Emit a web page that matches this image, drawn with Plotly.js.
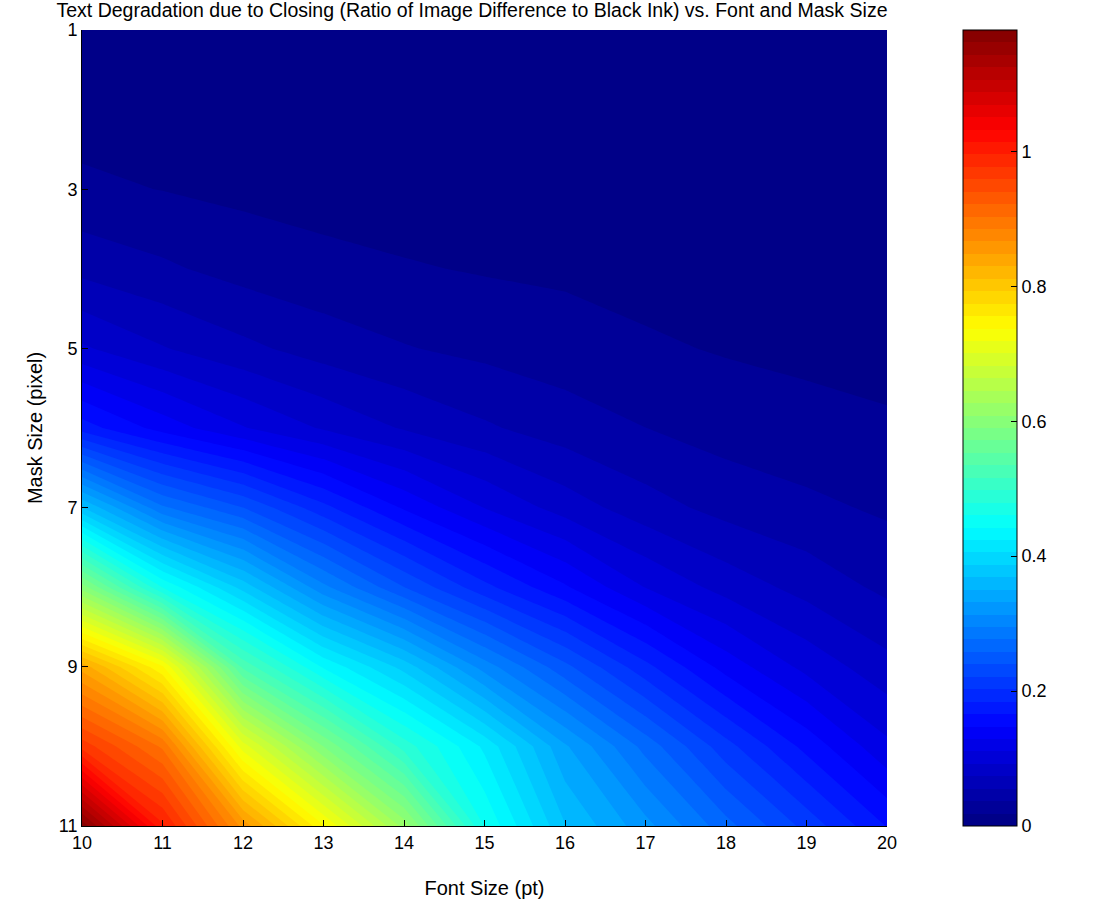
<!DOCTYPE html>
<html>
<head>
<meta charset="utf-8">
<script src="https://cdn.plot.ly/plotly-3.0.1.min.js"></script>
<style>html,body{margin:0;padding:0;background:#fff;}#chart{width:1102px;height:909px;}</style>
</head>
<body>
<div id="chart"></div>
<script>
// Font size (pt) – x axis
const fontSizes = [10, 11, 12, 13, 14, 15, 16, 17, 18, 19, 20];
// Mask size (pixel) – y axis
const maskSizes = [1, 2, 3, 4, 5, 6, 7, 8, 9, 10, 11];
// Ratio of image difference to black ink, one row per mask size
const ratioMask1  = [0.004,0.003,0.002,0.002,0.001,0.001,0.001,0.001,0.000,0.000,0.000];
const ratioMask2  = [0.011,0.008,0.006,0.005,0.004,0.003,0.002,0.002,0.001,0.001,0.001];
const ratioMask3  = [0.022,0.018,0.014,0.011,0.009,0.007,0.006,0.005,0.004,0.003,0.003];
const ratioMask4  = [0.050,0.040,0.030,0.024,0.020,0.017,0.015,0.012,0.009,0.007,0.006];
const ratioMask5  = [0.095,0.075,0.060,0.047,0.038,0.032,0.027,0.021,0.017,0.014,0.012];
const ratioMask6  = [0.175,0.140,0.112,0.090,0.072,0.058,0.046,0.037,0.029,0.025,0.021];
const ratioMask7  = [0.370,0.280,0.240,0.190,0.145,0.110,0.084,0.063,0.049,0.041,0.034];
const ratioMask8  = [0.600,0.460,0.380,0.300,0.240,0.190,0.150,0.110,0.085,0.067,0.051];
const ratioMask9  = [0.840,0.740,0.530,0.440,0.380,0.305,0.245,0.190,0.140,0.105,0.080];
const ratioMask10 = [0.970,0.900,0.710,0.590,0.490,0.420,0.335,0.270,0.210,0.160,0.115];
const ratioMask11 = [1.175,1.000,0.860,0.740,0.620,0.460,0.370,0.320,0.265,0.215,0.165];
const xTicks = [10, 11, 12, 13, 14, 15, 16, 17, 18, 19, 20];
const yTicks = [1, 3, 5, 7, 9, 11];
const cbTicks = [0, 0.2, 0.4, 0.6, 0.8, 1];

const z = [ratioMask1, ratioMask2, ratioMask3, ratioMask4, ratioMask5, ratioMask6,
           ratioMask7, ratioMask8, ratioMask9, ratioMask10, ratioMask11];

const zMax = 1.18;
const jet = [
  [0, 'rgb(0,0,128)'],
  [0.125, 'rgb(0,0,255)'],
  [0.375, 'rgb(0,255,255)'],
  [0.625, 'rgb(255,255,0)'],
  [0.875, 'rgb(255,0,0)'],
  [1, 'rgb(128,0,0)']
];
const font = 'Liberation Sans, Arial, Helvetica, sans-serif';

const plotL = 82, plotR = 887, plotT = 30, plotB = 826;
const plotW = plotR - plotL;

const trace = {
  type: 'contour',
  x: fontSizes,
  y: maskSizes,
  z: z,
  colorscale: jet,
  zmin: 0,
  zmax: zMax,
  zauto: false,
  contours: {start: 0, end: zMax, size: zMax / 64, coloring: 'fill', showlines: false},
  line: {width: 0, smoothing: 0},
  hoverinfo: 'x+y+z',
  colorbar: {
    x: (963 - plotL) / plotW, xanchor: 'left', xref: 'paper',
    y: 0.5, yanchor: 'middle', len: 1, lenmode: 'fraction',
    thickness: 54, thicknessmode: 'pixels',
    xpad: 0, ypad: 0,
    outlinewidth: 1, outlinecolor: '#000',
    tickmode: 'array', tickvals: cbTicks, ticktext: ['0','0.2','0.4','0.6','0.8','1'],
    ticks: 'inside', ticklen: 6, tickcolor: '#000', tickwidth: 1,
    tickfont: {family: font, size: 18, color: '#000'}
  }
};

const layout = {
  width: 1102, height: 909,
  margin: {l: plotL, r: 1102 - plotR, t: plotT, b: 909 - plotB, pad: 0},
  paper_bgcolor: '#fff', plot_bgcolor: '#fff',
  font: {family: font, color: '#000'},
  title: {
    text: 'Text Degradation due to Closing (Ratio of Image Difference to Black Ink) vs. Font and Mask Size',
    font: {family: font, size: 19.5, color: '#000'},
    x: 472 / 1102, xref: 'container', xanchor: 'center',
    y: 1 - 10 / 909, yref: 'container', yanchor: 'middle'
  },
  xaxis: {
    range: [10, 20], tickmode: 'array', tickvals: xTicks, ticktext: xTicks.map(String),
    ticks: 'inside', ticklen: 6, tickcolor: '#000',
    showgrid: false, zeroline: false, showline: true, linecolor: '#000', linewidth: 1,
    mirror: false,
    tickfont: {family: font, size: 18, color: '#000'},
    title: {text: 'Font Size (pt)', font: {family: font, size: 20, color: '#000'}, standoff: 29}
  },
  yaxis: {
    range: [11, 1], tickmode: 'array', tickvals: yTicks, ticktext: yTicks.map(String),
    ticks: 'inside', ticklen: 6, tickcolor: '#000',
    showgrid: false, zeroline: false, showline: true, linecolor: '#000', linewidth: 1,
    tickfont: {family: font, size: 18, color: '#000'},
    title: {text: 'Mask Size (pixel)', font: {family: font, size: 20, color: '#000'}, standoff: 10}
  }
};

Plotly.newPlot('chart', [trace], layout, {displayModeBar: false, staticPlot: true});
</script>
</body>
</html>
